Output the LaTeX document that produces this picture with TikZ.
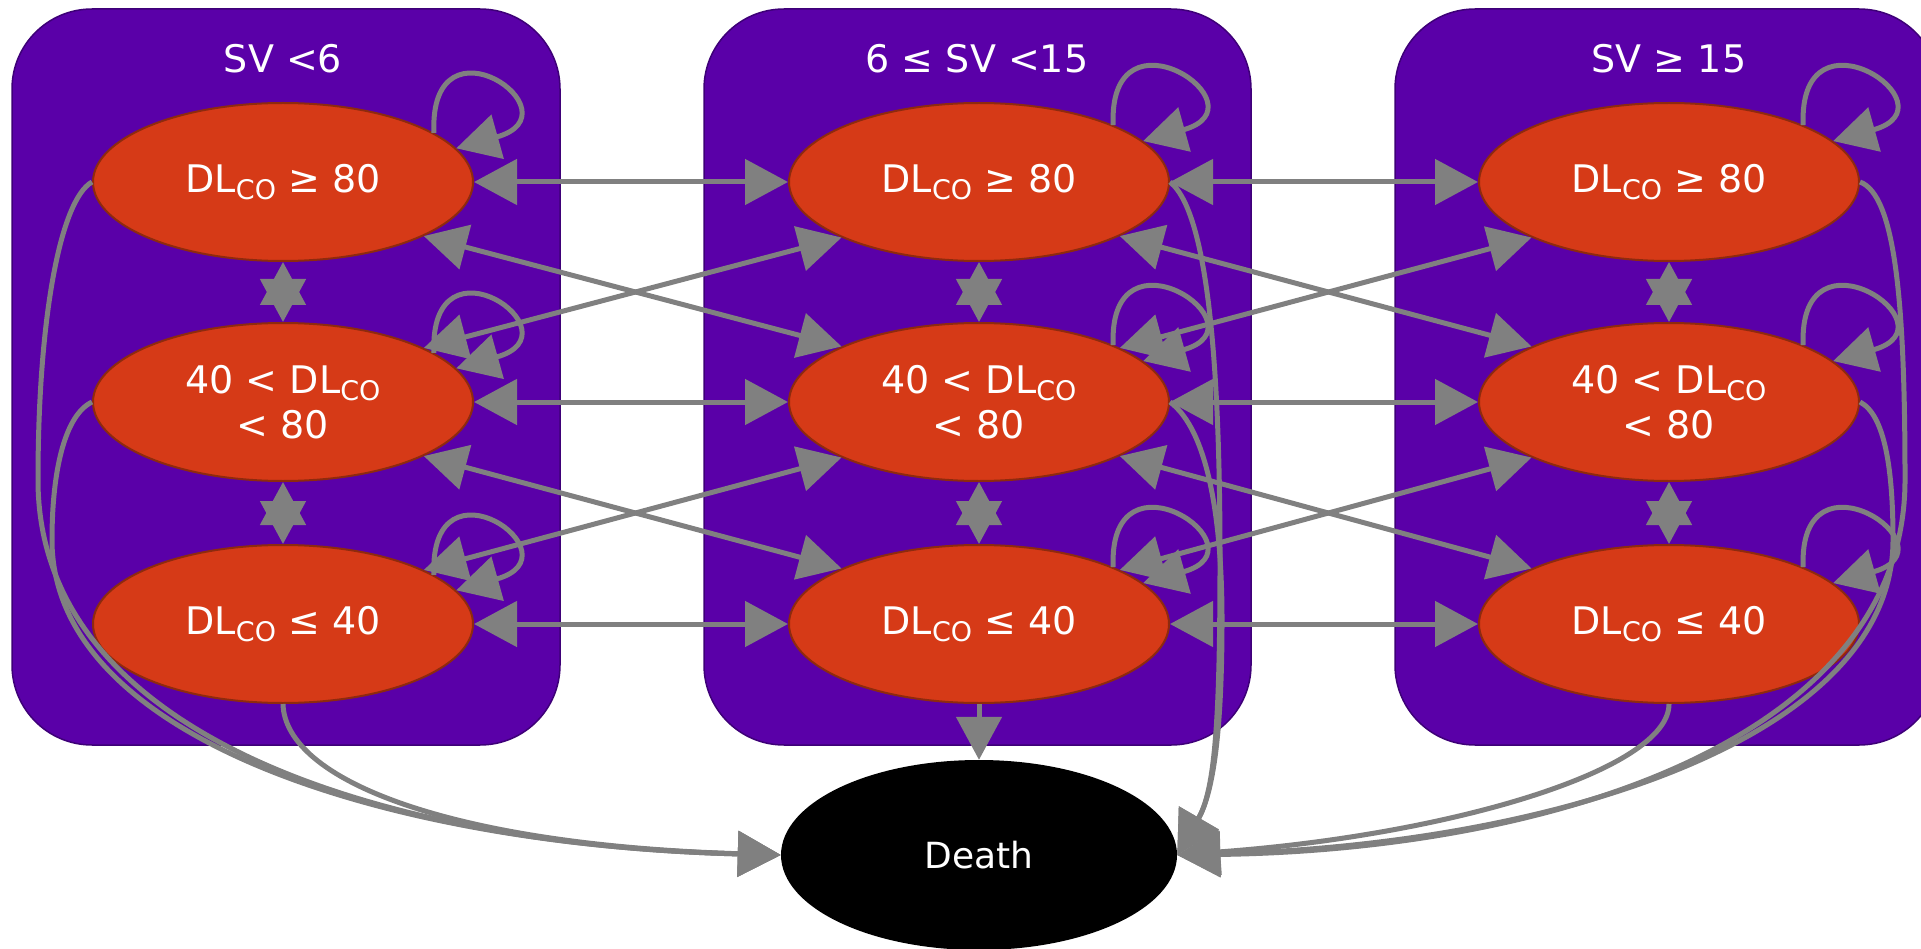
\documentclass[tikz,border=0pt]{standalone}
\usepackage{fontspec}
\setmainfont{DejaVu Sans}
\usetikzlibrary{shapes.geometric,arrows.meta}
\definecolor{panelc}{HTML}{5A00A8}
\definecolor{paneld}{HTML}{3E0078}
\definecolor{nodec}{HTML}{D63A17}
\definecolor{noded}{HTML}{8E2A0E}
\definecolor{arrc}{HTML}{808080}
\newcommand\DLco{DL\raisebox{-0.2em}{\fontsize{27}{27}\selectfont CO}}
\begin{document}
\begin{tikzpicture}[x=1pt,y=-1pt,
  panel/.style={fill=panelc,draw=paneld,line width=1.5pt,rounded corners=80pt},
  state/.style={ellipse,fill=nodec,draw=noded,line width=2pt,minimum width=380pt,minimum height=158pt,inner sep=0pt,text=white,align=center,font=\fontsize{38}{45}\selectfont},
  deathnode/.style={ellipse,fill=black,minimum width=396pt,minimum height=190pt,inner sep=0pt,text=white,font=\fontsize{36}{40}\selectfont},
  paneltitle/.style={text=white,inner sep=0pt,font=\fontsize{38}{45}\selectfont},
  arr/.style={draw=arrc,line width=5pt,-{Triangle[length=43pt,width=45pt]}},
  darr/.style={draw=arrc,line width=5pt,{Triangle[length=43pt,width=45pt]}-{Triangle[length=43pt,width=45pt]}}]
\useasboundingbox (0,0) rectangle (1921,949);
% panels
\path[panel] (12,9) rectangle (560,745);
\path[panel] (704,9) rectangle (1251,745);
\path[panel] (1395,9) rectangle (1939,745);
% titles
\node[paneltitle] (T1) at (283,59) {SV <6};
\node[paneltitle] (T2) at (977,59) {6 ≤ SV <15};
\node[paneltitle] (T3) at (1669,59) {SV ≥ 15};
% states
\node[state] (L1) at (283,182) {\DLco{} ≥ 80};
\node[state] (L2) at (283,402) {40 < \DLco\\< 80};
\node[state] (L3) at (283,624) {\DLco{} ≤ 40};
\node[state] (M1) at (979,182) {\DLco{} ≥ 80};
\node[state] (M2) at (979,402) {40 < \DLco\\< 80};
\node[state] (M3) at (979,624) {\DLco{} ≤ 40};
\node[state] (R1) at (1669,182) {\DLco{} ≥ 80};
\node[state] (R2) at (1669,402) {40 < \DLco\\< 80};
\node[state] (R3) at (1669,624) {\DLco{} ≤ 40};
\node[deathnode] (Death) at (979,855) {Death};
% self loops
\foreach \n in {L1,L2,L3}
  \draw[arr] (\n.18) .. controls +(-5,-125) and +(125,-35) .. (\n.11);
\foreach \n in {M1,M2,M3,R1,R2,R3}
  \draw[arr] (\n.23) .. controls +(-5,-125) and +(125,-35) .. (\n.14);
% vertical
\foreach \c in {L,M,R}{
  \draw[darr] (\c1.south) -- (\c2.north);
  \draw[darr] (\c2.south) -- (\c3.north);
}
% horizontal and diagonal
\foreach \a/\b in {L/M,M/R}{
  \foreach \i in {1,2,3}
    \draw[darr] (\a\i.east) -- (\b\i.west);
  \draw[darr] (\a1.-21) -- (\b2.158);
  \draw[darr] (\a2.21) -- (\b1.202);
  \draw[darr] (\a2.-21) -- (\b3.158);
  \draw[darr] (\a3.21) -- (\b2.202);
}
% to death
\draw[arr] (M3.south) -- (Death.north);
\draw[arr] (L1.west) .. controls (60,200) and (38,320) .. (38,480) .. controls (38,740) and (390,845) .. (Death.west);
\draw[arr] (L2.west) .. controls (65,415) and (52,470) .. (52,540) .. controls (52,740) and (390,845) .. (Death.west);
\draw[arr] (L3.south) .. controls (285,780) and (450,845) .. (Death.west);
\draw[arr] (M1.east) .. controls (1212,215) and (1220,400) .. (1220,560) .. controls (1220,720) and (1215,790) .. (Death.east);
\draw[arr] (M2.east) .. controls (1208,430) and (1222,520) .. (1222,620) .. controls (1222,720) and (1215,790) .. (Death.east);
\draw[arr] (R1.east) .. controls (1895,195) and (1905,300) .. (1905,480) .. controls (1905,740) and (1550,850) .. (Death.east);
\draw[arr] (R2.east) .. controls (1885,415) and (1893,470) .. (1893,540) .. controls (1893,740) and (1550,845) .. (Death.east);
\draw[arr] (R3.south) .. controls (1669,770) and (1450,835) .. (Death.east);
\end{tikzpicture}
\end{document}
